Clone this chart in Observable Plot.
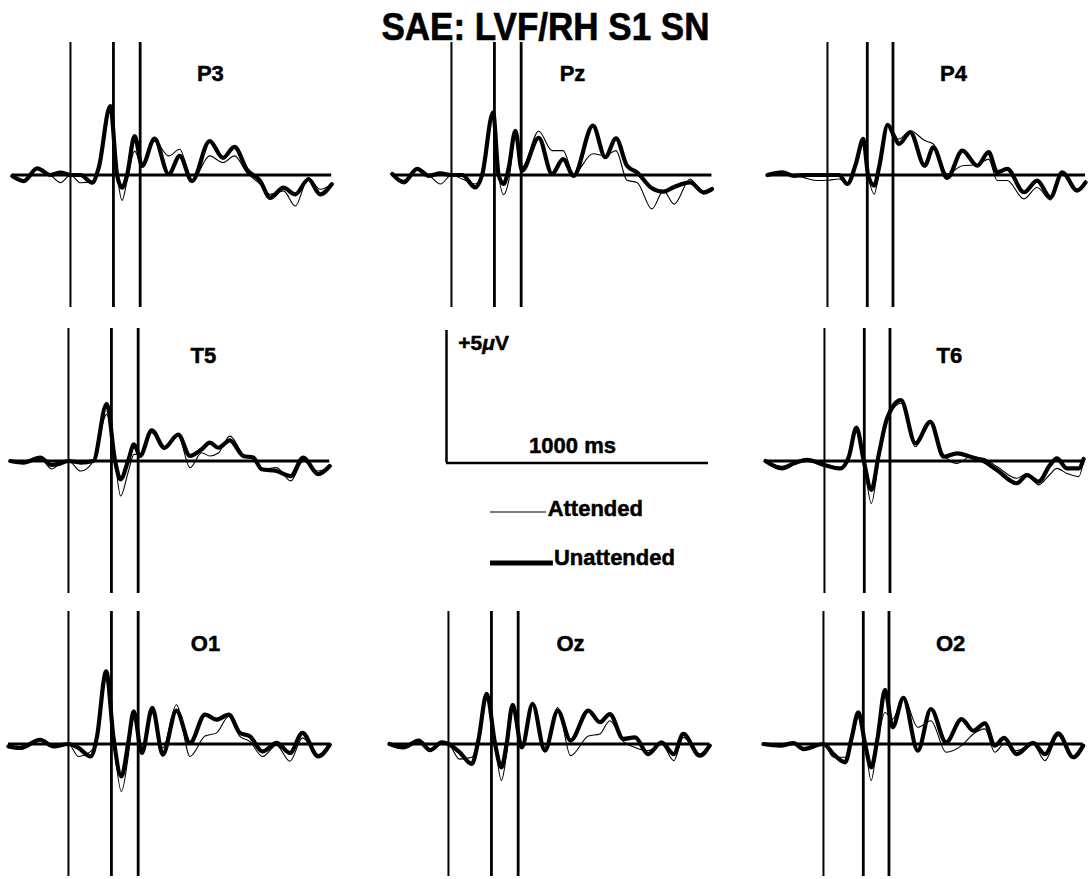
<!DOCTYPE html>
<html><head><meta charset="utf-8">
<script src="https://cdn.jsdelivr.net/npm/d3@7"></script>
<script src="https://cdn.jsdelivr.net/npm/@observablehq/plot@0.6"></script>
<style>
body{margin:0;background:#fff;}
#fig{position:relative;width:1091px;height:879px;overflow:hidden;font-family:"Liberation Sans",Arial,sans-serif;}
#title{position:absolute;left:0;width:1091px;top:9px;line-height:35px;text-align:center;font-weight:bold;font-size:35px;color:#000;-webkit-text-stroke:0.6px #000;transform:scaleY(1.1);transform-origin:50% 50%;}
#fig svg{position:absolute;overflow:visible;}
</style></head><body>
<div id="fig"><div id="title">SAE: LVF/RH S1 SN</div></div>
<script>
// ---- data: time (ms), Unattended (thick) and Attended (thin) amplitudes (µV) ----
const P3_t = [-222,-178,-127,-76,-38,0,38,83,108,152,178,197,216,245,273,321,375,417,464,531,582,626,673,724,762,813,858,908,953,997];
const P3_U = [-0.04,-0.23,0.25,0,0.09,0,0,-0.29,0.28,2.6,0,-0.48,0,1.47,0.34,1.37,0.03,0.72,-0.23,1.28,0.65,1.06,0.21,-0.23,-0.86,-0.48,-0.73,-0.16,-0.73,-0.35];
const P3_A = [0,-0.2,0.25,0,-0.29,0,-0.29,-0.23,0.21,2.4,0,-0.96,-0.23,0.9,0.34,1.28,0.72,0.97,-0.23,0.72,0.47,0.72,0.09,-0.35,-0.73,-0.6,-1.17,-0.1,-0.54,-0.35];

const Pz_t = [-226,-182,-131,-86,-42,0,41,91,117,159,180,199,219,244,269,333,384,426,466,540,587,628,670,708,765,809,850,911,962,994];
const Pz_U = [0.04,-0.28,0.23,-0.03,0.06,0,0,-0.47,0,2.36,0,-0.34,0.29,1.67,0.16,1.4,0.04,0.6,-0.03,1.86,0.67,1.38,0.35,0.1,-0.5,-0.63,-0.45,-0.28,-0.65,-0.53];
const Pz_A = [0,-0.2,0.2,0,-0.34,0,-0.15,-0.34,0,2.2,0,-0.74,-0.2,1.55,0.29,1.65,0.92,0.92,0.04,0.8,0.73,0.92,-0.2,-0.28,-1.28,-0.6,-1.1,-0.15,-0.72,-0.6];

const P4_t = [-229,-172,-127,-89,-44,0,44,76,108,137,155,179,197,230,254,273,316,371,404,457,515,572,615,648,686,750,800,851,896,953,985];
const P4_U = [0,0.1,-0.03,0,0,0,0,-0.34,0.41,1.36,0,-0.4,0.29,1.89,1.48,1.17,1.61,0.35,1.04,-0.11,0.92,0.35,0.86,0.1,0.23,-0.65,-0.21,-0.84,0.1,-0.59,-0.28];
const P4_A = [0,0.05,0,-0.1,-0.21,-0.2,-0.15,-0.29,0.35,1.17,0,-0.72,0.16,1.86,1.36,1.36,1.67,1.3,1.17,0.04,0.35,0.39,0.6,-0.21,-0.21,-0.9,-0.47,-0.94,0.04,-0.53,-0.21];

const T5_t = [-222,-172,-108,-64,-32,0,47,95,146,178,199,229,250,273,318,366,419,464,508,540,572,616,667,705,737,794,848,896,953,997];
const T5_U = [0,-0.06,0.13,-0.15,-0.1,0,-0.06,0,2.16,0,-0.69,0.05,0.63,0.19,1.16,0.5,1.0,0.19,0.44,0.69,0.5,0.78,0.19,0.13,-0.31,-0.38,-0.57,0.13,-0.5,-0.19];
const T5_A = [0,-0.06,0.1,-0.3,-0.1,0,-0.38,0,1.76,0,-1.32,-0.38,0.25,0.25,1.07,0.44,0.94,-0.25,0.31,0.19,0.3,0.94,0.25,0.06,-0.31,-0.25,-0.75,0,-0.38,-0.25];

const T6_t = [-225,-161,-117,-66,0,61,93,122,150,179,207,239,292,347,404,455,506,557,607,658,734,773,817,861,887,925,970,989];
const T6_U = [0,-0.28,-0.09,0.04,-0.15,-0.28,0.16,1.26,0,-1.09,0.23,1.61,2.3,0.67,1.48,0.16,0.29,0.16,0,-0.34,-0.84,-0.53,-0.78,-0.15,0.1,-0.28,-0.28,0.08];
const T6_A = [0,-0.2,-0.05,0.04,-0.2,-0.25,0.1,1.17,0,-1.6,0,1.48,2.18,0.54,1.54,0.23,-0.09,0.16,0.1,-0.21,-0.65,-0.47,-0.9,-0.5,-0.28,-0.47,-0.59,0];

const O1_t = [-229,-184,-108,-57,0,38,85,108,144,172,202,229,249,280,320,360,412,464,521,565,612,654,692,741,794,845,893,953,997];
const O1_U = [-0.09,-0.15,0.16,-0.09,0,-0.15,-0.47,0.23,2.74,0.23,-1.22,0.1,1.23,-0.34,1.36,-0.4,1.26,0.04,1.11,0.92,1.11,0.42,0.29,-0.28,0.04,-0.34,0.42,-0.47,-0.03];
const O1_A = [-0.05,-0.1,0.15,-0.05,0,-0.47,-0.28,0.1,2.49,0.1,-1.79,-0.4,1.17,-0.21,1.17,-0.15,1.48,-0.47,0.3,0.42,1.04,0.29,0.1,-0.47,-0.05,-0.65,0.23,-0.4,0];

const Oz_t = [-225,-172,-114,-70,-25,0,42,89,114,146,178,202,222,245,280,321,368,417,466,534,578,616,667,712,762,813,860,896,959,997];
const Oz_U = [0,-0.13,0.13,-0.23,0.06,0,-0.31,-0.75,0.13,1.89,0,-0.88,0,1.48,-0.13,1.51,-0.25,1.26,0.13,1.26,0.82,1.13,0.19,0.25,-0.38,0.06,-0.38,0.38,-0.44,-0.06];
const Oz_A = [0,-0.1,0.1,-0.2,0.05,0,-0.57,-0.5,0.13,1.82,0,-1.38,-0.38,1.32,-0.13,1.57,-0.13,1.38,-0.44,0.3,0.38,0.88,0.1,-0.13,-0.25,0,-0.63,0.25,-0.38,-0.06];

const O2_t = [-229,-165,-114,-76,0,38,83,108,133,159,182,207,235,264,305,360,410,468,527,572,616,654,689,737,800,845,896,953,991];
const O2_U = [0,-0.06,0.03,-0.19,0,-0.38,-0.69,0.25,1.19,0,-0.88,0.25,2.04,0.63,1.74,-0.25,1.32,0.06,0.94,0.5,0.78,-0.06,0.23,-0.38,0.04,-0.38,0.4,-0.5,-0.06];
const O2_A = [0,-0.05,0.03,-0.15,0,-0.5,-0.5,0.13,1.0,0,-1.38,0.13,1.19,0.94,1.77,0.63,0.88,-0.31,-0.06,0.38,0.57,-0.31,0,-0.25,0,-0.63,0.31,-0.5,-0.06];

// latency markers (ms)
const markersLeft = [0, 164, 266];
const markersRight = [0, 152, 250];

// channel names
const channels = ["P3","Pz","P4","T5","T6","O1","Oz","O2"];
// scale bar values
const scaleUV = 5, scaleMS = 1000;
const legendLabels = ["Attended","Unattended"];

// ---- layout (pixel placement of each panel: stimulus onset x, baseline y) ----
const layout = {
  P3:{onset:70, base:174, t:P3_t, U:P3_U, A:P3_A, m:markersLeft, lab:[534,3.8]},
  Pz:{onset:451, base:174, t:Pz_t, U:Pz_U, A:Pz_A, m:markersLeft, lab:[462,3.8]},
  P4:{onset:827, base:174, t:P4_t, U:P4_U, A:P4_A, m:markersRight, lab:[481,3.8]},
  T5:{onset:68, base:460, t:T5_t, U:T5_U, A:T5_A, m:markersLeft, lab:[515,3.95]},
  T6:{onset:824, base:460, t:T6_t, U:T6_U, A:T6_A, m:markersRight, lab:[477,3.95]},
  O1:{onset:68, base:743, t:O1_t, U:O1_U, A:O1_A, m:markersLeft, lab:[523,3.77]},
  Oz:{onset:448, base:743, t:Oz_t, U:Oz_U, A:Oz_A, m:markersLeft, lab:[466,3.77]},
  O2:{onset:823, base:743, t:O2_t, U:O2_U, A:O2_A, m:markersRight, lab:[485,3.77]}
};

const fig = document.getElementById("fig");
const FONT = '"Liberation Sans", Arial, sans-serif';
const W = 341, H = 285, M = 10;
const T0 = -225, T1 = 1000;
const pxPerMs = (W - 2*M) / (T1 - T0);
const txt = {fill: "#000", stroke: "#000", strokeWidth: 0.5, fontWeight: "bold"};

for (const name of channels) {
  const c = layout[name];
  const dU = c.t.map((t,i)=>({t, v:c.U[i]}));
  const dA = c.t.map((t,i)=>({t, v:c.A[i]}));
  const svg = Plot.plot({
    width: W, height: H, marginLeft: M, marginRight: M, marginTop: M, marginBottom: M,
    style: {background: "transparent", fontFamily: FONT, overflow: "visible"},
    x: {domain: [T0, T1], axis: null},
    y: {domain: [-5, 5], axis: null},
    marks: [
      Plot.ruleX(c.m, {y1: -5, y2: 5, stroke: "#000", strokeWidth: (d,i)=> i===0 ? 2 : 2.8}),
      Plot.ruleY([0], {x1: c.t[0], x2: c.t[c.t.length-1], stroke: "#000", strokeWidth: 3}),
      Plot.line(dA, {x: "t", y: "v", curve: "monotone-x", stroke: "#000", strokeWidth: 1.1}),
      Plot.line(dU, {x: "t", y: "v", curve: "monotone-x", stroke: "#000", strokeWidth: 4.2, strokeLinejoin: "round"}),
      Plot.text([name], {x: ()=>c.lab[0], y: ()=>c.lab[1], text: d=>d, fontSize: 22, ...txt})
    ]
  });
  svg.style.left = (c.onset - M - (0 - T0) * pxPerMs) + "px";
  svg.style.top = (c.base - H/2) + "px";
  fig.appendChild(svg);
}

// ---- centre panel: calibration bars + legend ----
{
  const CW = 282;
  const leg = [
    {label: legendLabels[0], w: 1.1, x1: 168, x2: 382, y: -1.85, tx: 386, ty: -1.75},
    {label: legendLabels[1], w: 5, x1: 168, x2: 408, y: -3.77, tx: 410, ty: -3.6}
  ];
  const svg = Plot.plot({
    width: CW, height: H, marginLeft: M, marginRight: M, marginTop: M, marginBottom: M,
    style: {background: "transparent", fontFamily: FONT, overflow: "visible"},
    x: {domain: [0, scaleMS], axis: null},
    y: {domain: [-5, 5], axis: null},
    marks: [
      Plot.ruleX([0], {y1: 0, y2: scaleUV, stroke: "#000", strokeWidth: 2.5}),
      Plot.ruleY([0], {x1: 0, x2: scaleMS, stroke: "#000", strokeWidth: 2.5}),
      Plot.text(["+" + scaleUV + "\u03bcV"], {x: ()=>45, y: ()=>4.5, textAnchor: "start", fontSize: 21, ...txt, className: "uvlabel"}),
      Plot.text([scaleMS + " ms"], {x: ()=>481, y: ()=>0.64, fontSize: 22, ...txt}),
      Plot.ruleY(leg, {y: "y", x1: "x1", x2: "x2", strokeWidth: d=>d.w, stroke: "#000"}),
      Plot.text(leg, {x: "tx", y: "ty", text: "label", textAnchor: "start", fontSize: 22, ...txt})
    ]
  });
  // italic mu as in the reference
  svg.querySelectorAll(".uvlabel text").forEach(t => {
    const s = t.textContent;
    const i = s.indexOf("\u03bc");
    if (i >= 0) {
      t.textContent = "";
      const ns = "http://www.w3.org/2000/svg";
      const a = document.createElementNS(ns, "tspan"); a.textContent = s.slice(0, i);
      const b = document.createElementNS(ns, "tspan"); b.textContent = "\u03bc"; b.setAttribute("font-style", "italic");
      const c = document.createElementNS(ns, "tspan"); c.textContent = s.slice(i + 1);
      t.append(a, b, c);
    }
  });
  svg.style.left = (446 - M) + "px";
  svg.style.top = (462 - H/2) + "px";
  fig.appendChild(svg);
}
</script>
</body></html>
